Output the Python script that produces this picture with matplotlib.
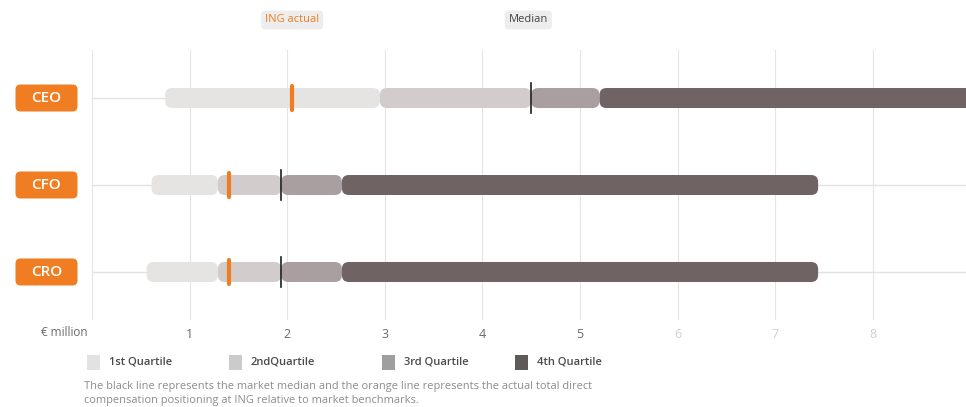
import matplotlib
matplotlib.use("Agg")
import matplotlib.pyplot as plt
from matplotlib.patches import FancyBboxPatch, Rectangle
from matplotlib.transforms import blended_transform_factory

plt.rcParams['font.family'] = ['Open Sans', 'DejaVu Sans']

roles = ["CEO", "CFO", "CRO"]
# market ranges in € million: start of each quartile band and end of the top one
q1_start = [0.75, 0.61, 0.56]
q2_start = [2.95, 1.29, 1.29]
median = [4.5, 1.94, 1.94]
q4_start = [5.2, 2.56, 2.56]
q4_end = [9.3, 7.44, 7.44]
ing_actual = [2.05, 1.40, 1.40]

x_ticks = [0, 1, 2, 3, 4, 5, 6, 7, 8]
quartile_labels = ["1st Quartile", "2ndQuartile", "3rd Quartile", "4th Quartile"]
quartile_colors = ["#e6e3e3", "#d2cccd", "#aa9fa0", "#6f6364"]
legend_colors = ["#e2e2e2", "#cbcbcb", "#9f9f9f", "#5e5a5a"]

ORANGE = "#f07d22"
W, H = 966, 407


def fx(px):
    return px / W


def fy(py):
    return 1 - py / H


fig = plt.figure(figsize=(W / 100, H / 100), dpi=100)
ax = fig.add_axes([fx(92), fy(320), fx(966 - 92), 270 / H])
ax.set_xlim(0, 8.955)
ax.set_ylim(2.552, -0.552)
for s in ax.spines.values():
    s.set_visible(False)

ax.set_xticks(x_ticks)
ax.set_xticklabels([""] + [str(t) for t in x_ticks[1:]])
ax.tick_params(axis='x', length=0, pad=6, labelsize=9, labelcolor="#6a6a6a")
for lab, t in zip(ax.get_xticklabels(), x_ticks):
    if t >= 6:
        lab.set_color("#cfcfcf")
ax.set_yticks([])
ax.grid(axis='x', color="#e4e4e4", lw=0.8, zorder=0)
ax.set_axisbelow(True)

# pixel scale of the data axes, used to keep bar corners circular
x0_px, y0_px = ax.transData.transform((0, 0))
x1_px, y1_px = ax.transData.transform((1, 1))
px_x = x1_px - x0_px
px_y = abs(y1_px - y0_px)
bar_h = 20 / px_y
corner = 7 / px_x

for i, role in enumerate(roles):
    ax.axhline(i, color="#e2e2e2", lw=1, zorder=1)
    bounds = [q1_start[i], q2_start[i], median[i], q4_start[i], q4_end[i]]
    for k in range(4):
        a, b = bounds[k], bounds[k + 1]
        seg = FancyBboxPatch((a, i - bar_h / 2), b - a, bar_h,
                             boxstyle=f"round,pad=0,rounding_size={corner}",
                             mutation_aspect=px_x / px_y,
                             facecolor=quartile_colors[k], edgecolor="none", zorder=2 + k)
        ax.add_patch(seg)
    ax.plot([median[i]] * 2, [i - 0.17, i + 0.17], color="#1e1e1e", lw=1.2, zorder=8)
    ax.plot([ing_actual[i]] * 2, [i - 0.14, i + 0.14], color=ORANGE, lw=3,
            solid_capstyle='round', zorder=9)

    # orange role badge on the left
    yc = ax.transData.transform((0, i))[1] / 100
    badge = FancyBboxPatch((0.155, yc - 0.135), 0.62, 0.27,
                           boxstyle="round,pad=0,rounding_size=0.05",
                           transform=fig.dpi_scale_trans, facecolor=ORANGE,
                           edgecolor="none")
    fig.add_artist(badge)
    fig.text(0.465 / (W / 100), yc / (H / 100), role, color="white", fontsize=11,
             fontweight='semibold', ha='center', va='center')

# captions above the CEO markers
top = blended_transform_factory(ax.transData, fig.transFigure)
ax.text(ing_actual[0], fy(20), "ING actual", transform=top, ha='center', va='center',
        fontsize=8, color=ORANGE, clip_on=False,
        bbox=dict(boxstyle="round,pad=0.35", facecolor="#ededed", edgecolor="none"))
ax.text(median[0] - 0.03, fy(20), "Median", transform=top, ha='center', va='center',
        fontsize=8, color="#444444", clip_on=False,
        bbox=dict(boxstyle="round,pad=0.35", facecolor="#ededed", edgecolor="none"))

fig.text(fx(88), fy(333), "€ million", ha='right', va='center', fontsize=8.5, color="#6a6a6a")

# legend
legend_x = [87, 229, 382, 515]
for x0, lab, c in zip(legend_x, quartile_labels, legend_colors):
    fig.add_artist(Rectangle((fx(x0), fy(370)), 13 / W, 15 / H,
                             transform=fig.transFigure, facecolor=c, edgecolor="none"))
    fig.text(fx(x0 + 22), fy(362), lab, fontsize=8, color="#4a4a4a",
             fontweight='semibold', va='center')

fig.text(fx(84), fy(386),
         "The black line represents the market median and the orange line represents the actual total direct",
         fontsize=7.9, color="#8c8c8c", va='center')
fig.text(fx(84), fy(400),
         "compensation positioning at ING relative to market benchmarks.",
         fontsize=7.9, color="#8c8c8c", va='center')

fig.savefig("out.png", dpi=100)
